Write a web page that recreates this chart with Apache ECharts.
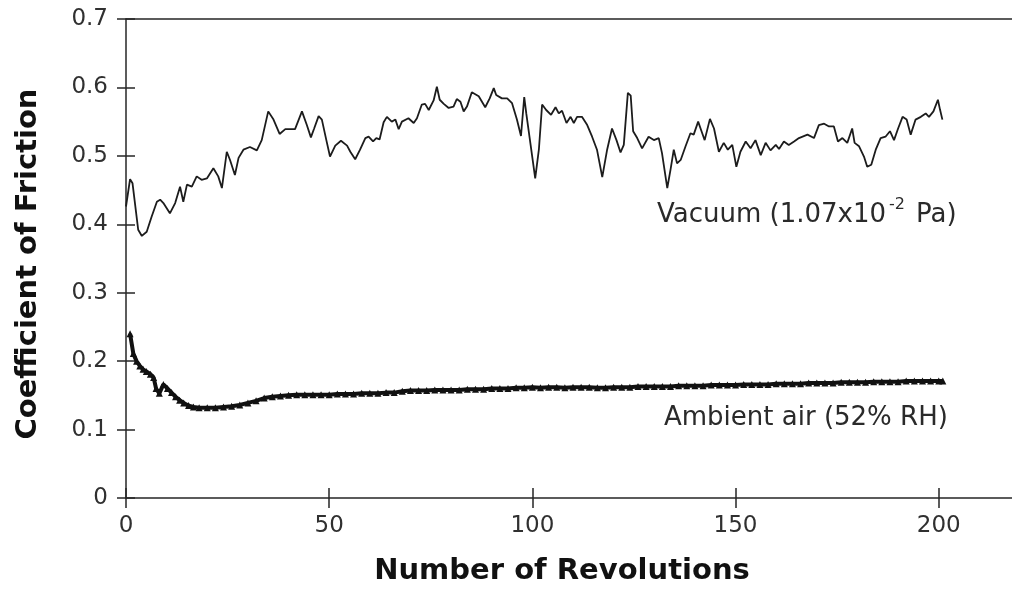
<!DOCTYPE html>
<html>
<head>
<meta charset="utf-8">
<script src="https://cdn.jsdelivr.net/npm/echarts@6/dist/echarts.min.js"></script>
<style>
html,body{margin:0;padding:0;background:#fff;overflow:hidden;width:1012px;height:592px;}
#chart{width:1020px;height:592px;}
</style>
</head>
<body>
<div id="chart"></div>
<script>
// ---- Data ----
var xTickValues = [0, 50, 100, 150, 200];
var yTickLabels = ['0', '0.1', '0.2', '0.3', '0.4', '0.5', '0.6', '0.7'];

var vacRev = [0,1,1.6,2.2,3,3.9,5.1,6.3,7.6,8.4,9.2,10.8,12.1,13.3,14.1,15,16.2,17.4,18.6,19.9,21.5,22.7,23.6,24.8,25.6,26.8,27.7,28.9,30.5,32.2,33.4,35,36.3,37.8,39.2,40.4,41.6,43.3,44.5,45.5,46.3,47.4,48.2,49.3,50.2,51.5,52.9,54.4,55.2,56.4,57.6,58.9,59.7,60.8,61.6,62.4,63.4,64.2,65.4,66.3,67.1,67.9,69.5,70.8,71.6,72.8,73.6,74.5,75.7,76.5,77.2,78.2,79.4,80.6,81.4,82.3,83.1,83.9,85.1,86.8,88.4,89.5,90.5,91.1,92.5,93.8,95,96.2,97.2,98,98.5,99.5,100.7,101.6,102.4,103.4,104.6,105.7,106.5,107.3,108.4,109.4,110.2,111,112.2,113.5,114.7,115.9,117.2,118.4,119.6,120.7,121.7,122.5,123.5,124.2,124.8,125.8,127,128.6,129.9,131.1,131.9,133.2,134,134.8,135.6,136.5,137.7,138.9,139.7,140.8,141.8,142.4,143.7,144.7,145.9,147.1,148.1,149.2,150.2,151.2,152.5,153.7,154.9,156.2,157.4,158.6,159.9,160.7,161.9,163.1,164.4,165.6,167.7,169.3,170.5,171.8,173,174.2,175.2,176.3,177.5,178.7,179.3,180.4,181.6,182.4,183.4,184.5,185.7,186.9,188,189,190,191.1,192.1,193.1,194.3,195.6,196.8,197.6,198.7,199.8,200.3,200.9];
var vacCof = [0.426,0.466,0.460,0.431,0.392,0.383,0.389,0.411,0.433,0.436,0.431,0.416,0.431,0.455,0.433,0.458,0.455,0.470,0.465,0.467,0.482,0.470,0.453,0.506,0.494,0.472,0.497,0.509,0.513,0.508,0.523,0.565,0.553,0.532,0.539,0.539,0.539,0.565,0.545,0.527,0.540,0.558,0.553,0.523,0.499,0.515,0.522,0.515,0.506,0.495,0.509,0.526,0.528,0.521,0.526,0.524,0.549,0.557,0.550,0.553,0.539,0.550,0.555,0.548,0.555,0.575,0.576,0.567,0.581,0.601,0.582,0.576,0.570,0.572,0.583,0.579,0.565,0.572,0.593,0.587,0.571,0.584,0.599,0.589,0.584,0.584,0.577,0.553,0.529,0.586,0.562,0.519,0.467,0.509,0.575,0.567,0.560,0.571,0.562,0.566,0.548,0.557,0.548,0.557,0.557,0.545,0.528,0.509,0.469,0.509,0.540,0.523,0.505,0.516,0.592,0.588,0.536,0.526,0.511,0.528,0.523,0.526,0.504,0.453,0.480,0.509,0.489,0.494,0.514,0.533,0.531,0.550,0.533,0.523,0.554,0.540,0.506,0.519,0.509,0.516,0.484,0.506,0.521,0.511,0.523,0.501,0.519,0.508,0.516,0.510,0.521,0.516,0.521,0.526,0.531,0.526,0.545,0.547,0.543,0.543,0.521,0.526,0.519,0.540,0.519,0.514,0.499,0.484,0.487,0.509,0.526,0.528,0.536,0.523,0.540,0.557,0.553,0.531,0.553,0.557,0.562,0.557,0.565,0.582,0.568,0.553];

var ambRev = [1,1.8,2.6,3.4,4.2,5,6,6.8,7.4,8.2,9.2,10.2,11.2,12.2,13.2,14.2,15.4,16.6,18,20,22,24,26,28,30,32,34,36,38,40,42,44,46,48,50,52,54,56,58,60,62,64,66,68,70,72,74,76,78,80,82,84,86,88,90,92,94,96,98,100,102,104,106,108,110,112,114,116,118,120,122,124,126,128,130,132,134,136,138,140,142,144,146,148,150,152,154,156,158,160,162,164,166,168,170,172,174,176,178,180,182,184,186,188,190,192,194,196,198,200,201];
var ambCof = [0.240,0.211,0.200,0.193,0.188,0.185,0.181,0.176,0.160,0.153,0.166,0.160,0.154,0.148,0.143,0.139,0.135,0.133,0.132,0.132,0.132,0.133,0.134,0.136,0.139,0.142,0.146,0.148,0.149,0.150,0.151,0.151,0.151,0.151,0.151,0.152,0.152,0.152,0.153,0.153,0.153,0.154,0.154,0.156,0.157,0.157,0.157,0.158,0.158,0.158,0.158,0.159,0.159,0.159,0.160,0.160,0.160,0.161,0.161,0.162,0.161,0.162,0.162,0.161,0.162,0.162,0.162,0.161,0.161,0.162,0.162,0.162,0.163,0.163,0.163,0.163,0.163,0.164,0.164,0.164,0.164,0.165,0.165,0.165,0.165,0.166,0.166,0.166,0.166,0.167,0.167,0.167,0.167,0.168,0.168,0.168,0.168,0.169,0.169,0.169,0.169,0.170,0.170,0.170,0.170,0.171,0.171,0.171,0.171,0.171,0.171];

function pairs(xs, ys) { return xs.map(function (x, i) { return [x, ys[i]]; }); }

var FONT = '"DejaVu Sans", "Liberation Sans", Arial, sans-serif';
var AXIS_COLOR = '#262626';

var chart = echarts.init(document.getElementById('chart'), null, { renderer: 'canvas' });

// The reference frame (0..220) is cut by the right edge of the picture
var xBase = {
  type: 'value', min: 0, max: 220, interval: 50, gridIndex: 0,
  splitLine: { show: false }
};
var yBase = {
  type: 'value', min: 0, max: 0.7, interval: 0.1, gridIndex: 0,
  splitLine: { show: false }
};

chart.setOption({
  animation: false,
  backgroundColor: '#ffffff',
  grid: {
    left: 126, top: 19, right: 0, bottom: 94, show: false
  },
  xAxis: [
    Object.assign({}, xBase, {
      position: 'bottom',
      axisLine: { show: true, lineStyle: { color: AXIS_COLOR, width: 1.5 } },
      axisTick: { show: true, inside: false, length: 10, lineStyle: { color: AXIS_COLOR, width: 1.5 } },
      axisLabel: {
        show: true, margin: 17, color: '#303030', fontSize: 23, fontFamily: FONT,
        showMaxLabel: false,
        formatter: function (v) { return xTickValues.indexOf(v) >= 0 ? String(v) : ''; }
      }
    }),
    Object.assign({}, xBase, {
      position: 'bottom',
      axisLine: { show: false },
      axisTick: { show: true, inside: true, length: 10, lineStyle: { color: AXIS_COLOR, width: 1.5 } },
      axisLabel: { show: false }
    }),
    Object.assign({}, xBase, {
      position: 'top',
      axisLine: { show: true, lineStyle: { color: AXIS_COLOR, width: 1.5 } },
      axisTick: { show: false },
      axisLabel: { show: false }
    })
  ],
  yAxis: [
    Object.assign({}, yBase, {
      position: 'left',
      axisLine: { show: true, lineStyle: { color: AXIS_COLOR, width: 1.5 } },
      axisTick: { show: true, inside: false, length: 9, lineStyle: { color: AXIS_COLOR, width: 1.5 } },
      axisLabel: {
        show: true, margin: 18, color: '#303030', fontSize: 23, fontFamily: FONT,
        formatter: function (v) { return yTickLabels[Math.round(v * 10)]; }
      }
    }),
    Object.assign({}, yBase, {
      position: 'left',
      axisLine: { show: false },
      axisTick: { show: true, inside: true, length: 9, lineStyle: { color: AXIS_COLOR, width: 1.5 } },
      axisLabel: { show: false }
    })
  ],
  series: [
    {
      name: 'Vacuum (1.07x10-2 Pa)',
      type: 'line', xAxisIndex: 0, yAxisIndex: 0,
      data: pairs(vacRev, vacCof),
      showSymbol: false, symbol: 'none',
      lineStyle: { color: '#1c1c1c', width: 1.8 },
      smooth: false
    },
    {
      name: 'Ambient air (52% RH)',
      type: 'line', xAxisIndex: 0, yAxisIndex: 0,
      data: pairs(ambRev, ambCof),
      symbol: 'triangle', symbolSize: 7, showSymbol: true, showAllSymbol: true,
      itemStyle: { color: '#111111' },
      lineStyle: { color: '#111111', width: 4 }
    }
  ],
  graphic: [
    {
      type: 'text', x: 562, y: 571,
      style: {
        text: 'Number of Revolutions', fill: '#111111',
        font: 'bold 29px ' + FONT, textAlign: 'center', textVerticalAlign: 'middle'
      }
    },
    {
      type: 'text', x: 28, y: 264, rotation: Math.PI / 2,
      style: {
        text: 'Coefficient of Friction', fill: '#111111',
        font: 'bold 29px ' + FONT, textAlign: 'center', textVerticalAlign: 'middle'
      }
    },
    {
      type: 'text', x: 657, y: 215,
      style: {
        text: 'Vacuum (1.07x10', fill: '#2a2a2a',
        font: '26px ' + FONT, textAlign: 'left', textVerticalAlign: 'middle'
      }
    },
    {
      type: 'text', x: 889, y: 205,
      style: {
        text: '-2', fill: '#2a2a2a',
        font: '16px ' + FONT, textAlign: 'left', textVerticalAlign: 'middle'
      }
    },
    {
      type: 'text', x: 916, y: 215,
      style: {
        text: 'Pa)', fill: '#2a2a2a',
        font: '26px ' + FONT, textAlign: 'left', textVerticalAlign: 'middle'
      }
    },
    {
      type: 'text', x: 664, y: 418,
      style: {
        text: 'Ambient air (52% RH)', fill: '#2a2a2a',
        font: '26px ' + FONT, textAlign: 'left', textVerticalAlign: 'middle'
      }
    }
  ]
});
</script>
</body>
</html>
